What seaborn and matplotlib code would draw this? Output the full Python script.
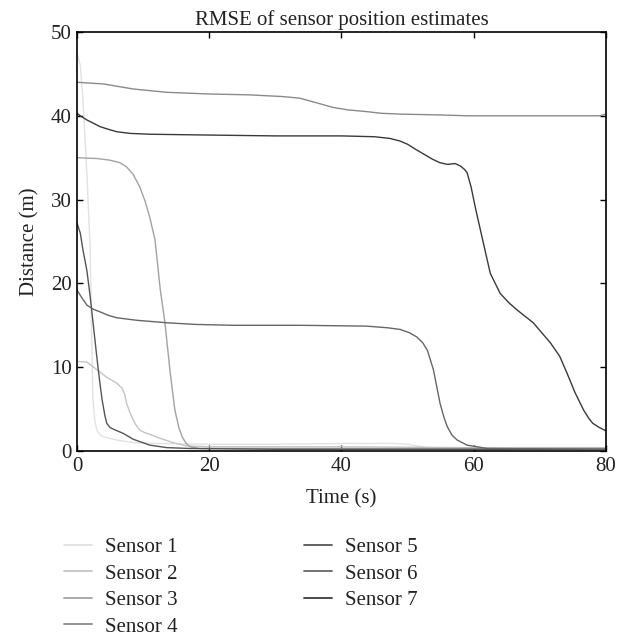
import matplotlib

matplotlib.use("Agg")

import matplotlib.pyplot as plt
import pandas as pd
import seaborn as sns


SENSORS = ["Sensor 1", "Sensor 2", "Sensor 3", "Sensor 4", "Sensor 5", "Sensor 6", "Sensor 7"]
GRAYS = ["#e2e2e2", "#c4c4c4", "#a2a2a2", "#8a8a8a", "#555555", "#666666", "#3a3a3a"]

# values, one time/value list per sensor
s1_t = [0, 0.5, 0.9, 1.5, 2.0, 2.2, 2.4, 2.7, 3.0, 3.5, 4.0, 6.0, 8.5, 12, 20, 30, 40, 48, 50, 53, 60, 70, 80]
s1_v = [47.5, 46, 41.9, 33, 24, 14.4, 6.4, 3.6, 2.5, 1.9, 1.7, 1.3, 1.0, 0.9, 0.8, 0.8, 0.9, 0.9, 0.8, 0.4, 0.3, 0.3, 0.3]

s2_t = [0, 1.5, 3.0, 4.5, 6.0, 6.8, 7.2, 7.5, 8.0, 8.5, 9.0, 9.5, 10.2, 11, 12.6, 14.5, 16.6, 20, 40, 60, 80]
s2_v = [10.7, 10.6, 9.7, 8.8, 8.1, 7.5, 6.8, 5.7, 4.6, 3.7, 3.0, 2.5, 2.2, 2.0, 1.5, 1.0, 0.6, 0.5, 0.5, 0.4, 0.4]

s3_t = [0, 3, 5, 6.5, 7.5, 8.5, 9.5, 10.3, 11, 11.8, 12.6, 13.3, 14.1, 14.8, 15.4, 15.9, 16.5, 17.1, 18.5, 30, 50, 80]
s3_v = [35.0, 34.9, 34.7, 34.4, 33.9, 33.0, 31.5, 29.8, 27.9, 25.2, 19.2, 15.3, 9.3, 4.9, 2.8, 1.7, 0.9, 0.5, 0.3, 0.3, 0.3, 0.3]

s4_t = [0, 4, 8.5, 13.6, 20, 26, 31, 33.7, 36, 38.7, 41, 43.8, 46, 48.9, 55, 59, 70, 79, 80]
s4_v = [44.0, 43.8, 43.2, 42.8, 42.6, 42.5, 42.3, 42.1, 41.6, 41.0, 40.7, 40.5, 40.3, 40.2, 40.1, 40.0, 40.0, 40.0, 40.2]

s5_t = [0, 0.5, 0.9, 1.5, 2.0, 2.5, 3.0, 3.4, 3.8, 4.2, 4.5, 5.0, 5.5, 7.0, 8.5, 11, 13.6, 17, 30, 50, 80]
s5_v = [27.2, 26, 24, 21.5, 18.4, 14.8, 11.2, 8.5, 6.1, 4.3, 3.3, 2.8, 2.6, 2.1, 1.4, 0.7, 0.4, 0.3, 0.2, 0.2, 0.2]

s6_t = [0, 0.8, 1.5, 2.5, 3.5, 4.7, 6, 9, 13.6, 18, 23.6, 33.7, 43.8, 47, 48.9, 50.3, 51.4, 52.3, 53, 53.9,
        54.9, 55.5, 56, 56.7, 57.5, 59, 62, 80]
s6_v = [19.2, 18.2, 17.4, 16.9, 16.6, 16.2, 15.9, 15.6, 15.3, 15.1, 15.0, 15.0, 14.9, 14.7, 14.5, 14.1, 13.6, 12.9,
        12.0, 9.7, 5.7, 4.0, 2.9, 1.9, 1.3, 0.7, 0.3, 0.2]

s7_t = [0, 0.5, 1.5, 2.5, 3.5, 4.7, 6, 8, 11, 20, 30, 40, 45, 47.3, 48.8, 50, 51.2, 52.5, 53.8, 54.9, 56, 57.2,
        58.0, 58.6, 59, 59.6, 60.2, 61, 62.5, 64, 65.3, 66.6, 69, 71.6, 73, 74.1, 75.3, 76.6, 77.4, 78, 79, 80]
s7_v = [40.3, 40.0, 39.5, 39.1, 38.7, 38.4, 38.1, 37.9, 37.8, 37.7, 37.6, 37.6, 37.5, 37.3, 37.0, 36.6, 36.0, 35.4,
        34.8, 34.4, 34.2, 34.3, 34.0, 33.6, 33.2, 31.5, 29.2, 26.4, 21.2, 18.8, 17.7, 16.8, 15.3, 12.9, 11.3, 9.3,
        7.0, 4.9, 3.9, 3.3, 2.8, 2.4]

TIMES = [s1_t, s2_t, s3_t, s4_t, s5_t, s6_t, s7_t]
VALUES = [s1_v, s2_v, s3_v, s4_v, s5_v, s6_v, s7_v]


def build_frame():
    parts = []
    for name, t, v in zip(SENSORS, TIMES, VALUES):
        parts.append(pd.DataFrame({"time": t, "distance": v, "sensor": name}))
    return pd.concat(parts, ignore_index=True)


def main():
    sns.set_theme(style="ticks")
    plt.rcParams["font.family"] = ["Liberation Serif", "DejaVu Serif"]
    plt.rcParams["xtick.direction"] = "in"
    plt.rcParams["ytick.direction"] = "in"

    df = build_frame()
    fig = plt.figure(figsize=(6.27, 6.36), dpi=100)
    ax = fig.add_axes([0.1228, 0.2909, 0.8437, 0.6588])

    sns.lineplot(data=df, x="time", y="distance", hue="sensor", hue_order=SENSORS,
                 palette=GRAYS, linewidth=1.0, estimator=None, sort=False, ax=ax, legend=False)

    ax.set_xlim(0, 80)
    ax.set_ylim(0, 50)
    ax.set_xticks([0, 20, 40, 60, 80])
    ax.set_yticks([0, 10, 20, 30, 40, 50])
    ax.tick_params(axis="both", which="both", top=True, right=True, labelsize=15,
                   length=4, width=1, color="black", labelcolor="#222222", pad=4)
    for spine in ax.spines.values():
        spine.set_color("black")
        spine.set_linewidth(1.2)

    ax.set_title("RMSE of sensor position estimates", fontsize=15, pad=5, color="#222222")
    ax.set_xlabel("Time (s)", fontsize=15, color="#222222", labelpad=10)
    ax.set_ylabel("Distance (m)", fontsize=15, color="#222222", labelpad=8)

    handles = [plt.Line2D([], [], color=c, linewidth=1.3) for c in GRAYS]
    fig.legend(handles, SENSORS, loc="upper left", bbox_to_anchor=(0.072, 0.184), ncol=2,
               frameon=False, fontsize=15, handlelength=1.35, handletextpad=0.6,
               columnspacing=6.1, labelspacing=0.33, labelcolor="#222222")

    fig.savefig("out.png", dpi=100)
    plt.close(fig)


if __name__ == "__main__":
    main()
